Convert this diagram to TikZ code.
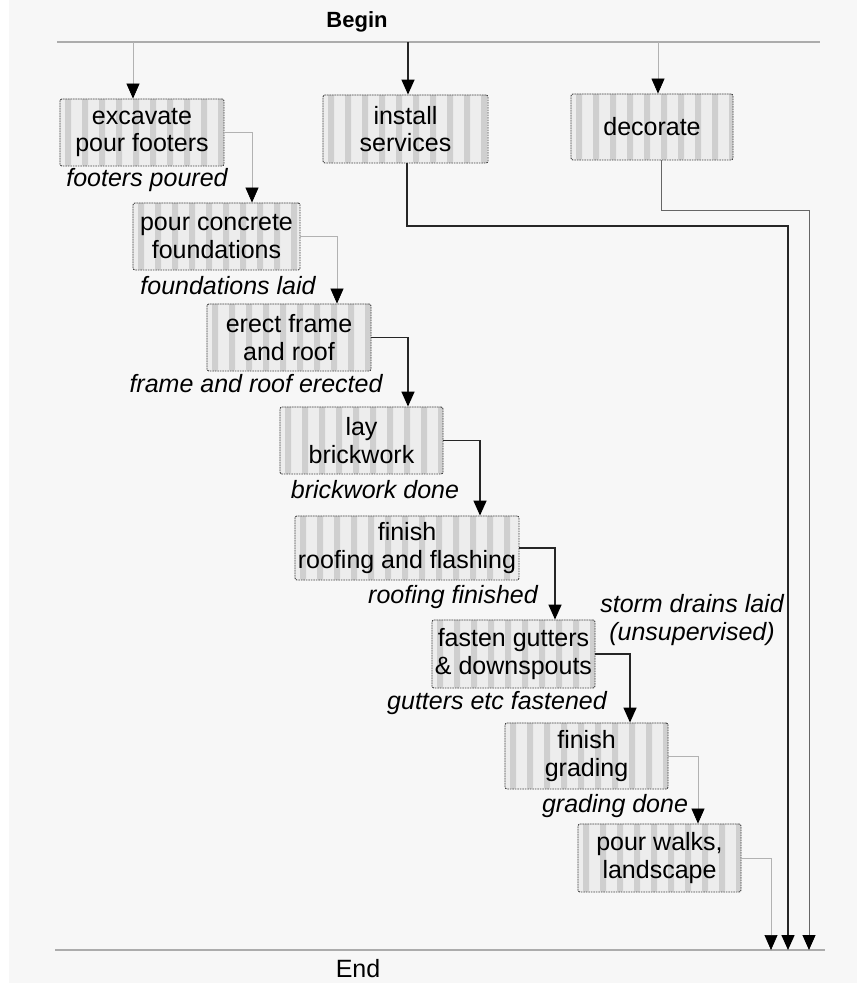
\documentclass[tikz,border=0pt]{standalone}
\usepackage{fontspec}
\setmainfont{Liberation Sans}
\usetikzlibrary{arrows.meta}
\begin{document}
\begin{tikzpicture}[x=1pt,y=-1pt,
  every node/.style={font=\fontsize{25}{27.5}\selectfont},
  task/.style={draw=black!75, line width=0.9pt, dash pattern=on 1.6pt off 0.9pt,
    rounded corners=2pt, fill=gray!14, align=center, inner sep=0pt,
    path picture={
      \foreach \i in {0,...,14}
        \fill[gray!38] ([xshift=\i*17pt+5pt]path picture bounding box.south west)
          rectangle ++(6pt,120pt);
    }},
  lbl/.style={font=\fontsize{25}{27.5}\selectfont\itshape},
  tip/.style={-{Triangle[width=13pt,length=15pt,color=black]}},
  thinln/.style={draw=gray!60, line width=0.7pt, tip},
  midln/.style={draw=black!60, line width=1pt, tip},
  critln/.style={draw=black!85, line width=1.5pt, tip},
  rail/.style={draw=gray!65, line width=1.3pt}
]
\useasboundingbox (0,0) rectangle (857,983);
\fill[white] (0,0) rectangle (857,983);
\fill[gray!6] (9,0) rectangle (857,983);

% start and finish rails
\coordinate (bL) at (57,42);  \coordinate (bR) at (820,42);
\coordinate (eL) at (55,950); \coordinate (eR) at (825,950);
\draw[rail] (bL) -- (bR);
\draw[rail] (eL) -- (eR);
\node[font=\fontsize{22}{24}\selectfont\bfseries] (begin) at (357,22) {Begin};
\node (end) at (358,969) {End};

% activities
\node[task, minimum width=164pt, minimum height=67pt] (excav)    at (142,132.5) {excavate\\pour footers};
\node[task, minimum width=167pt, minimum height=67pt] (concrete) at (216.5,236.5) {pour concrete\\foundations};
\node[task, minimum width=164pt, minimum height=67pt] (erect)    at (289,337.5) {erect frame\\and roof};
\node[task, minimum width=163pt, minimum height=67pt] (lay)      at (361.5,440.5) {lay\\brickwork};
\node[task, minimum width=224pt, minimum height=64pt] (roofing)  at (407,548) {finish\\roofing and flashing};
\node[task, minimum width=163pt, minimum height=68pt] (gutters)  at (513.5,654) {fasten gutters\\\& downspouts};
\node[task, minimum width=163pt, minimum height=66pt] (grading)  at (586.5,756) {finish\\grading};
\node[task, minimum width=163pt, minimum height=68pt] (walks)    at (659.5,858) {pour walks,\\landscape};
\node[task, minimum width=165pt, minimum height=68pt] (install)  at (405.5,129) {install\\services};
\node[task, minimum width=162pt, minimum height=66pt] (decorate) at (652,127) {decorate};

% milestones
\node[lbl] (m1) at (147,180) {footers poured};
\node[lbl] (m2) at (228,286) {foundations laid};
\node[lbl] (m3) at (256,384) {frame and roof erected};
\node[lbl] (m4) at (375,490) {brickwork done};
\node[lbl] (m5) at (453,597) {roofing finished};
\node[lbl] (m6) at (497,703) {gutters etc fastened};
\node[lbl] (m7) at (615,806) {grading done};
\node[lbl, align=center] (m8) at (692,620) {storm drains laid\\(unsupervised)};

% links from the start rail
\coordinate (s1) at (133,42);
\coordinate (s2) at (408,42);
\coordinate (s3) at (658,42);
\draw[thinln] (s1) -- (s1 |- excav.north);
\draw[critln] (s2) -- (s2 |- install.north);
\draw[thinln] (s3) -- (s3 |- decorate.north);

% chain of dependent activities
\draw[thinln] (excav.east) -| ([xshift=35.5pt]concrete.north);
\draw[thinln] (concrete.east) -| ([xshift=48pt]erect.north);
\draw[critln] (erect.east) -| ([xshift=46.5pt]lay.north);
\draw[critln] (lay.east) -| ([xshift=73pt]roofing.north);
\draw[critln] (roofing.east) -| ([xshift=41.5pt]gutters.north);
\draw[critln] (gutters.east) -| ([xshift=43.5pt]grading.north);
\draw[thinln] (grading.east) -| ([xshift=38.5pt]walks.north);

% links into the finish rail
\coordinate (f1) at (771,950);
\coordinate (j2) at (788,226); \coordinate (f2) at (788,950);
\coordinate (j3) at (809,210); \coordinate (f3) at (809,950);
\draw[thinln] (walks.east) -| (f1);
\draw[critln] ([xshift=1.5pt]install.south) |- (j2) -- (f2);
\draw[midln] ([xshift=9pt]decorate.south) |- (j3) -- (f3);
\end{tikzpicture}
\end{document}
